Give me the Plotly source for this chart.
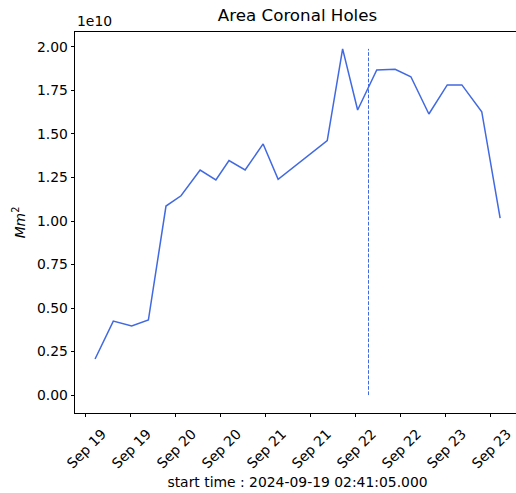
import plotly.graph_objects as go

# ---- data ----
times = [
    "2024-09-19 02:41", "2024-09-19 07:33", "2024-09-19 12:27", "2024-09-19 16:54",
    "2024-09-19 21:36", "2024-09-20 01:36", "2024-09-20 06:42", "2024-09-20 10:54",
    "2024-09-20 14:24", "2024-09-20 18:42", "2024-09-20 23:30", "2024-09-21 03:30",
    "2024-09-21 16:36", "2024-09-21 20:42", "2024-09-22 00:42", "2024-09-22 05:48",
    "2024-09-22 10:42", "2024-09-22 14:54", "2024-09-22 19:42", "2024-09-23 00:36",
    "2024-09-23 04:30", "2024-09-23 09:48", "2024-09-23 14:42",
]
# area in units of 1e10 Mm^2
area_e10 = [
    0.207, 0.425, 0.397, 0.431, 1.086, 1.145, 1.293, 1.236,
    1.347, 1.293, 1.443, 1.240, 1.462, 1.989, 1.638, 1.868,
    1.872, 1.829, 1.615, 1.782, 1.782, 1.628, 1.016,
]
marker_time = "2024-09-22 03:36"
marker_span = [0.0, max(area_e10)]

y_ticks = [0.0, 0.25, 0.5, 0.75, 1.0, 1.25, 1.5, 1.75, 2.0]
x_range = ["2024-09-18 21:20", "2024-09-23 20:00"]
y_range = [-0.103, 2.086]

title_text = "Area Coronal Holes"
xlabel = "start time : 2024-09-19 02:41:05.000"
ylabel = "<i>Mm</i><sup>2</sup>"
offset_text = "1e10"

FONT = "DejaVu Sans"
LINE_COLOR = "royalblue"

fig = go.Figure()
fig.add_trace(go.Scatter(
    x=times, y=area_e10, mode="lines",
    line=dict(color=LINE_COLOR, width=1.5), showlegend=False,
))
fig.add_trace(go.Scatter(
    x=[marker_time, marker_time], y=marker_span, mode="lines",
    line=dict(color=LINE_COLOR, width=1, dash="3.7px,1.6px"), showlegend=False,
))

fig.update_layout(
    width=540, height=493,
    margin=dict(l=75, r=20, t=32, b=80),
    paper_bgcolor="white", plot_bgcolor="white",
    font=dict(family=FONT, size=13.9, color="black"),
    title=dict(text=title_text, x=0.5, xref="paper", xanchor="center",
               y=1 - 15 / 493, yanchor="middle", yref="container",
               font=dict(size=16.7, family=FONT, color="black")),
    xaxis=dict(
        type="date", range=x_range, automargin=False,
        tick0="2024-09-19", dtick=12 * 3600 * 1000, tickformat="%b %d",
        tickangle=-45, ticks="outside", ticklen=3.5, tickwidth=0.8, tickcolor="black",
        showline=True, linecolor="black", linewidth=0.8, mirror=True,
        showgrid=False, zeroline=False,
        ticklabelshift=17, ticklabelstandoff=3,
        title=dict(text=xlabel, font=dict(size=13.9, family=FONT), standoff=6),
    ),
    yaxis=dict(
        range=y_range, tickvals=y_ticks, tickformat=".2f", automargin=False,
        ticks="outside", ticklen=3.5, tickwidth=0.8, tickcolor="black",
        showline=True, linecolor="black", linewidth=0.8, mirror=True,
        showgrid=False, zeroline=False,
        title=dict(text=ylabel, font=dict(size=13.9, family=FONT), standoff=8),
    ),
    annotations=[dict(
        text=offset_text, xref="paper", yref="paper", x=0, y=1,
        xanchor="left", yanchor="bottom", showarrow=False,
        font=dict(size=13.9, family=FONT, color="black"), yshift=1,
    )],
)

fig.write_html("out.html", config={"displayModeBar": False},
               post_script="document.documentElement.style.overflow='hidden';document.body.style.margin='0';document.body.style.overflow='hidden';")
